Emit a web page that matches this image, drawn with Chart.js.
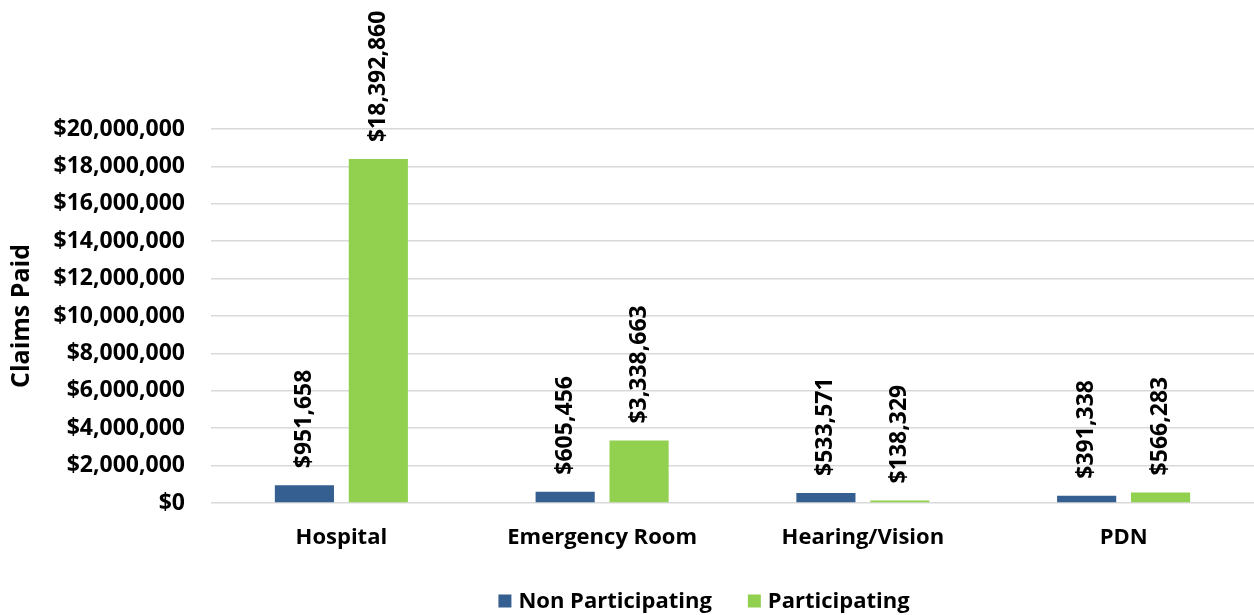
<!DOCTYPE html>
<html>
<head>
<meta charset="utf-8">
<script src="https://cdn.jsdelivr.net/npm/chart.js@4/dist/chart.umd.min.js"></script>
<style>
    html, body { margin: 0; padding: 0; background: #fff; }
    #wrap { width: 1254px; height: 615px; position: relative; }
</style>
</head>
<body>
<div id="wrap"><canvas id="chart"></canvas></div>
<script>
// ── Data ──────────────────────────────────────────────
const categories = ['Hospital', 'Emergency Room', 'Hearing/Vision', 'PDN'];
const nonParticipating = [951658, 605456, 533571, 391338];
const participating = [18392860, 3338663, 138329, 566283];
const seriesNames = ['Non Participating', 'Participating'];
const seriesColors = ['#365f91', '#92d050'];
const yTicks = { min: 0, max: 20000000, step: 2000000 };

const FONT = '"Open Sans", "Liberation Sans", sans-serif';
const money = v => '$' + Math.round(v).toLocaleString('en-US');

// rotated value labels above each bar
const barLabels = {
    id: 'barLabels',
    afterDatasetsDraw(chart) {
        const ctx = chart.ctx;
        ctx.save();
        ctx.fillStyle = '#000';
        ctx.font = 'bold 23px ' + FONT;
        ctx.textAlign = 'left';
        ctx.textBaseline = 'middle';
        chart.data.datasets.forEach((ds, i) => {
            chart.getDatasetMeta(i).data.forEach((bar, j) => {
                ctx.save();
                ctx.translate(bar.x, bar.y - 17);
                ctx.rotate(-Math.PI / 2);
                ctx.fillText(money(ds.data[j]), 0, 0);
                ctx.restore();
            });
        });
        ctx.restore();
    }
};

// legend drawn by hand so it can sit where the original one sits
const bottomLegend = {
    id: 'bottomLegend',
    afterDraw(chart) {
        const ctx = chart.ctx;
        const y = 601, box = 13, gap = 7, spacing = 36;
        ctx.save();
        ctx.font = 'bold 22px ' + FONT;
        ctx.textBaseline = 'middle';
        ctx.textAlign = 'left';
        const items = chart.data.datasets.map(ds => ({
            text: ds.label, color: ds.backgroundColor,
            w: box + gap + ctx.measureText(ds.label).width,
        }));
        const total = items.reduce((s, it) => s + it.w, 0) + spacing * (items.length - 1);
        let x = 704 - total / 2;
        items.forEach(it => {
            ctx.fillStyle = it.color;
            ctx.fillRect(x, y - box / 2, box, box);
            ctx.fillStyle = '#000';
            ctx.fillText(it.text, x + box + gap, y + 1);
            x += it.w + spacing;
        });
        ctx.restore();
    }
};

new Chart(document.getElementById('chart'), {
    type: 'bar',
    data: {
        labels: categories,
        datasets: [
            { label: seriesNames[0], data: nonParticipating, backgroundColor: seriesColors[0] },
            { label: seriesNames[1], data: participating, backgroundColor: seriesColors[1] },
        ],
    },
    options: {
        responsive: true,
        maintainAspectRatio: false,
        animation: false,
        categoryPercentage: 0.567,
        barPercentage: 0.8,
        layout: { padding: { top: 129, right: 0, left: 0, bottom: 48 } },
        plugins: {
            tooltip: { enabled: false },
            legend: { display: false },
        },
        scales: {
            x: {
                grid: { display: false },
                border: { display: false },
                ticks: {
                    color: '#000',
                    padding: 14,
                    font: { family: FONT, size: 22, weight: 'bold' },
                },
                afterFit(scale) { scale.height = 64; },
            },
            y: {
                min: yTicks.min,
                max: yTicks.max,
                grid: { color: '#d9d9d9', lineWidth: 1.5, drawTicks: false },
                border: { display: false },
                ticks: {
                    stepSize: yTicks.step,
                    color: '#000',
                    padding: 26,
                    font: { family: FONT, size: 23, weight: 'bold' },
                    callback: v => money(v),
                },
                title: {
                    display: true,
                    text: 'Claims Paid',
                    color: '#000',
                    font: { family: FONT, size: 25, weight: 'bold' },
                    padding: { top: 7, bottom: 4 },
                },
                afterFit(scale) { scale.width = 211; },
            },
        },
    },
    plugins: [barLabels, bottomLegend],
});
</script>
</body>
</html>
